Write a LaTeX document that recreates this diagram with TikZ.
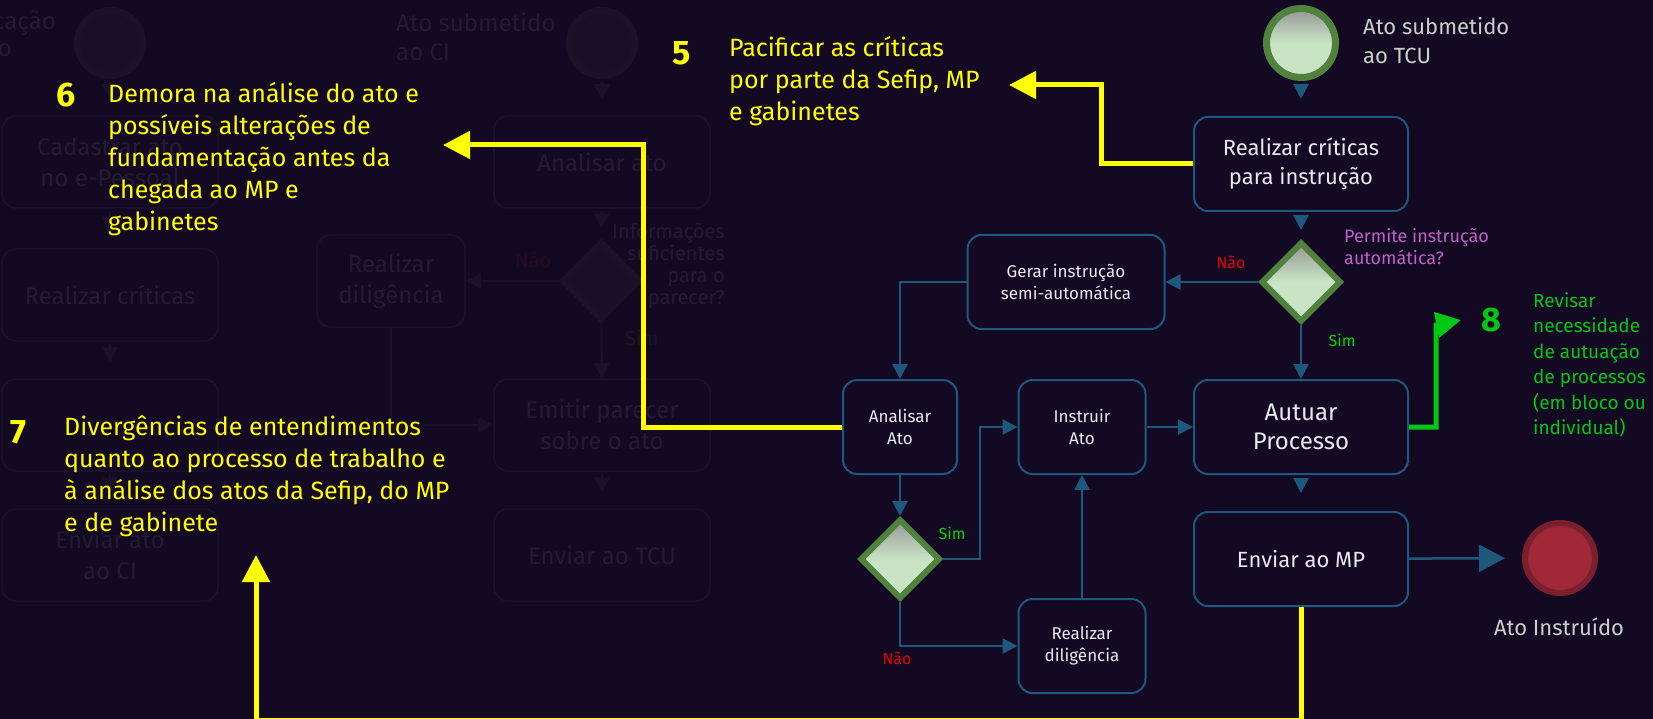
\documentclass[tikz,border=0pt]{standalone}
\usepackage{fontspec}
\setmainfont{Fira Sans}
\usetikzlibrary{arrows.meta,shapes.geometric,positioning}

\definecolor{bgc}{RGB}{20,9,35}
\definecolor{flowc}{RGB}{31,88,125}
\definecolor{boxtxt}{RGB}{232,232,240}
\definecolor{ringg}{RGB}{80,130,62}
\definecolor{gatetop}{RGB}{150,150,150}
\definecolor{gatebot}{RGB}{200,228,196}
\definecolor{endfill}{RGB}{160,40,55}
\definecolor{endring}{RGB}{122,31,44}
\definecolor{evtxt}{RGB}{200,208,200}
\definecolor{askc}{RGB}{192,96,200}
\definecolor{noc}{RGB}{230,0,0}
\definecolor{yesc}{RGB}{0,215,0}
\definecolor{revc}{RGB}{0,200,20}
\definecolor{issuec}{RGB}{255,255,0}
\definecolor{ghostc}{RGB}{27,17,41}
\definecolor{ghosttxt}{RGB}{36,26,51}
\definecolor{ghostno}{RGB}{38,10,30}
\definecolor{ghostyes}{RGB}{20,24,32}

\tikzset{
  task/.style={draw=flowc, line width=2pt, rounded corners=14pt, fill=bgc, text=boxtxt, align=center, inner sep=0pt},
  bigtask/.style={task, minimum width=214pt, minimum height=94pt, font=\fontsize{22}{29}\selectfont},
  smalltask/.style={task, minimum width=114pt, minimum height=94pt, font=\fontsize{17}{22}\selectfont},
  gate/.style={diamond, draw=ringg, line width=6pt, top color=gatetop, bottom color=gatebot, middle color=gatebot, minimum width=80pt, minimum height=80pt, inner sep=0pt},
  startev/.style={circle, draw=ringg, line width=7pt, top color=gatetop, bottom color=gatebot, middle color=gatebot, minimum size=69pt, inner sep=0pt},
  endev/.style={circle, draw=endring, line width=6pt, fill=endfill, minimum size=70pt, inner sep=0pt},
  flow/.style={draw=flowc, line width=2.5pt, -{Triangle[length=15pt,width=15pt]}},
  issue/.style={draw=issuec, line width=5pt, -{Triangle[length=27pt,width=27pt]}},
  review/.style={draw=revc, line width=5pt, -{Triangle[length=25pt,width=25pt]}},
  num/.style={font=\fontsize{34}{34}\bfseries\selectfont, inner sep=0pt},
  note/.style={text=issuec, align=left, anchor=west, inner sep=0pt, font=\fontsize{25}{32}\selectfont},
  lbl/.style={inner sep=0pt, font=\fontsize{16}{20}\selectfont},
  ghost/.style={draw=ghostc, line width=1.5pt, rounded corners=14pt, text=ghosttxt, align=center, minimum width=216pt, minimum height=92pt, inner sep=0pt, font=\fontsize{24}{31}\selectfont},
  ghostflow/.style={draw=ghostc, line width=2pt, -{Triangle[length=15pt,width=15pt]}},
}

\begin{document}
\begin{tikzpicture}[x=1pt, y=-1pt]
\useasboundingbox (0,0) rectangle (1653,719);
\fill[bgc] (0,0) rectangle (1653,719);

% faded lanes behind
\node[circle, draw=ghostc, line width=6pt, fill=ghostc!70!bgc, minimum size=66pt] (gini1) at (110,43) {};
\node[circle, draw=ghostc, line width=6pt, fill=ghostc!70!bgc, minimum size=66pt] (gini2) at (602,43) {};
\node[anchor=east, text=ghosttxt, inner sep=0pt, font=\fontsize{24}{31}\selectfont] (gcut1) at (56,23) {cação};
\node[anchor=east, text=ghosttxt, inner sep=0pt, font=\fontsize{24}{31}\selectfont] (gcut2) at (12,50) {o};
\node[anchor=west, text=ghosttxt, align=left, inner sep=0pt, font=\fontsize{24}{29}\selectfont] (gsubci) at (396,37) {Ato submetido\\ao CI};
\node[ghost] (gcad) at (110,162) {Cadastrar ato\\no e-Pessoal};
\node[ghost] (ganal) at (602,162) {Analisar ato};
\node[ghost] (gcrit) at (110,295) {Realizar críticas};
\node[ghost, minimum width=148pt] (gdil) at (391,281) {Realizar\\diligência};
\node[diamond, draw=ghostc, line width=5pt, fill=ghostc!70!bgc, minimum width=80pt, minimum height=80pt, inner sep=0pt] (ggate) at (601,281) {};
\node[anchor=east, text=ghosttxt, align=right, inner sep=0pt, font=\fontsize{20}{22}\selectfont] (gask) at (725,266) {Informações\\suficientes\\para o\\parecer?};
\node[lbl, text=ghostno, font=\fontsize{20}{22}\selectfont] (gno) at (533,260) {Não};
\node[lbl, text=ghostyes, font=\fontsize{20}{22}\selectfont] (gyes) at (642,338) {Sim};
\node[ghost] (gemit) at (602,425) {Emitir parecer\\sobre o ato};
\node[ghost] (galt) at (110,425) {};
\node[ghost] (genv) at (110,555) {Enviar ato\\ao CI};
\node[ghost] (gtcu) at (602,555) {Enviar ao TCU};
\draw[ghostflow, shorten <=3pt, shorten >=16pt] (gini1) -- (gcad);
\draw[ghostflow, shorten <=3pt, shorten >=16pt] (gini2) -- (ganal);
\draw[ghostflow, shorten <=3pt, shorten >=16pt] (gcad) -- (gcrit);
\draw[ghostflow, shorten <=3pt, shorten >=16pt] (gcrit) -- (galt);
\draw[ghostflow, shorten <=3pt, shorten >=16pt] (galt) -- (genv);
\draw[ghostflow, shorten <=3pt, shorten >=10pt] (ganal) -- (ggate);
\draw[ghostflow] (ggate) -- (gdil);
\draw[ghostflow] (ggate) -- (gemit);
\draw[ghostflow] (gdil.south) |- (gemit.west);
\draw[ghostflow, shorten <=3pt, shorten >=16pt] (gemit) -- (gtcu);

% process
\node[startev] (start) at (1301,43) {};
\node[anchor=west, text=evtxt, align=left, inner sep=0pt, font=\fontsize{22}{29}\selectfont] (startlbl) at (1363,41) {Ato submetido\\ao TCU};
\node[bigtask] (crit) at (1301,164) {Realizar críticas\\para instrução};
\node[gate] (gw1) at (1301,282) {};
\node[anchor=west, text=askc, align=left, inner sep=0pt, font=\fontsize{18}{22}\selectfont] (ask) at (1344,247) {Permite instrução\\automática?};
\node[task, minimum width=197pt, minimum height=94pt, font=\fontsize{17}{22}\selectfont] (gerar) at (1066,282) {Gerar instrução\\semi-automática};
\node[smalltask] (analisar) at (900,427) {Analisar\\Ato};
\node[smalltask, minimum width=127pt] (instruir) at (1082,427) {Instruir\\Ato};
\node[bigtask, font=\fontsize{24}{29}\selectfont] (autuar) at (1301,427) {Autuar\\Processo};
\node[gate] (gw2) at (900,559) {};
\node[smalltask, minimum width=127pt] (dilig) at (1082,646) {Realizar\\diligência};
\node[bigtask] (enviar) at (1301,559) {Enviar ao MP};
\node[endev] (fim) at (1560,558) {};
\node[text=evtxt, inner sep=0pt, font=\fontsize{22}{29}\selectfont] (fimlbl) at (1559,627) {Ato Instruído};

\node[lbl, text=noc] (no1) at (1231,262) {Não};
\node[lbl, text=yesc] (yes1) at (1342,340) {Sim};
\node[lbl, text=yesc] (yes2) at (952,533) {Sim};
\node[lbl, text=noc] (no2) at (897,658) {Não};

\draw[flow, shorten <=3pt, shorten >=17pt] (start) -- (crit);
\draw[flow, shorten <=3pt, shorten >=9pt] (crit) -- (gw1);
\draw[flow] (gw1) -- (gerar);
\draw[flow] (gerar.west) -| (analisar.north);
\draw[flow] (gw1) -- (autuar);
\draw[flow] (analisar) -- (gw2);
\draw[flow] (gw2.east) -- ++(37,0) |- (instruir.west);
\draw[flow] (gw2.south) |- (dilig.west);
\draw[flow] (dilig) -- (instruir);
\draw[flow] (instruir) -- (autuar);
\draw[flow, shorten <=4pt, shorten >=18pt] (autuar) -- (enviar);
\draw[flow, -{Triangle[length=26pt,width=27pt]}, shorten >=17pt] (enviar) -- (fim);

% problem notes
\node[num, text=issuec] (n5) at (682,53) {5};
\node[note] (t5) at (729,81) {Pacificar as críticas\\por parte da Sefip, MP\\e gabinetes};
\node[num, text=issuec] (n6) at (66,95) {6};
\node[note] (t6) at (108,159) {Demora na análise do ato e\\possíveis alterações de\\fundamentação antes da\\chegada ao MP e\\gabinetes};
\node[num, text=issuec] (n7) at (18,432) {7};
\node[note] (t7) at (64,476) {Divergências de entendimentos\\quanto ao processo de trabalho e\\à análise dos atos da Sefip, do MP\\e de gabinete};
\node[num, text=revc] (n8) at (1491,320) {8};
\node[note, text=revc, font=\fontsize{19}{25.4}\selectfont] (t8) at (1533,365) {Revisar\\necessidade\\de autuação\\de processos\\(em bloco ou\\individual)};

\coordinate (tip5) at (1009,85);
\coordinate (tip6) at (443,145);
\coordinate (tip7) at (256,555);
\coordinate (tip8) at (1461,320);
\draw[issue] (crit.west) -- (1101,164) |- (tip5);
\draw[issue] (analisar.west) -- (643,427) |- (tip6);
\draw[issue] (enviar.south) -- (1301,720) -| (tip7);
\draw[review] (autuar.east) -| (1436,325) -- (tip8);
\end{tikzpicture}
\end{document}
